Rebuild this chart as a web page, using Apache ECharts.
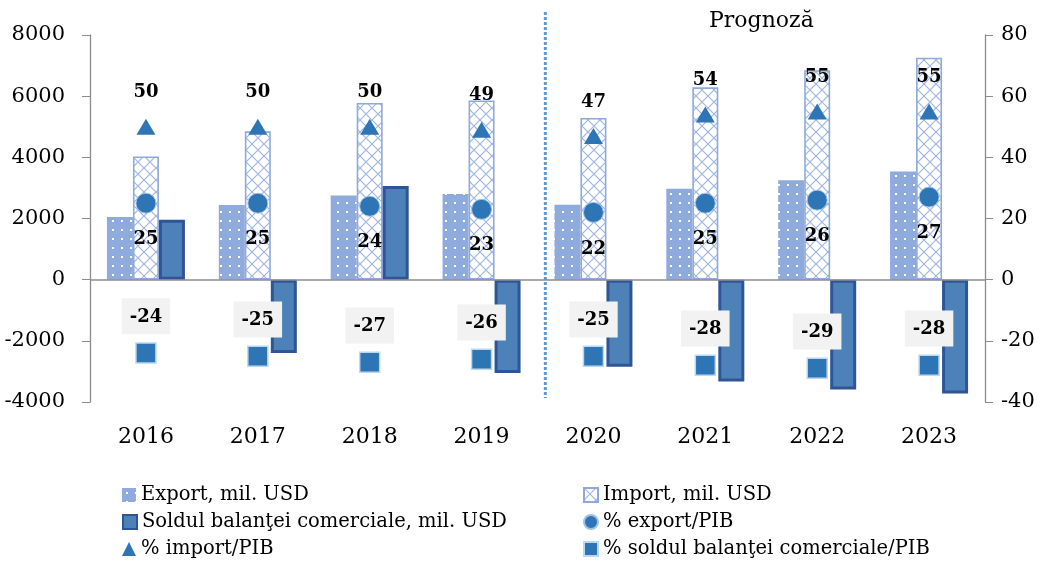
<!DOCTYPE html>
<html>
<head>
<meta charset="utf-8">
<script src="https://cdn.jsdelivr.net/npm/echarts@6/dist/echarts.min.js"></script>
<style>
html,body{margin:0;padding:0;background:#fff;}
#chart{width:1051px;height:562px;}
</style>
</head>
<body>
<div id="chart"></div>
<script>
const categories = ['2016','2017','2018','2019','2020','2021','2022','2023'];
const exportVals = [2050, 2440, 2750, 2800, 2450, 2970, 3250, 3540];
const importVals = [4030, 4850, 5780, 5860, 5290, 6290, 6850, 7260];
const soldVals = [1960, -2400, 3060, -3050, -2850, -3330, -3590, -3720];
const pctExport = [25, 25, 24, 23, 22, 25, 26, 27];
const pctImport = [50, 50, 50, 49, 47, 54, 55, 55];
const pctSold = [-24, -25, -27, -26, -25, -28, -29, -28];
const leftTicks = [-4000, -2000, 0, 2000, 4000, 6000, 8000];
const rightTicks = [-40, -20, 0, 20, 40, 60, 80];
const seriesNames = ['Export, mil. USD', 'Import, mil. USD', 'Soldul balanţei comerciale, mil. USD',
  '% export/PIB', '% import/PIB', '% soldul balanţei comerciale/PIB'];
const forecastLabel = 'Prognoză';
const forecastStart = 3.57; // position on hidden index axis for divider

const FONT = 'DejaVu Serif';

function dotPattern() {
  const c = document.createElement('canvas');
  c.width = 9; c.height = 9;
  const g = c.getContext('2d');
  g.fillStyle = '#8faadc';
  g.fillRect(0, 0, 9, 9);
  g.fillStyle = '#ffffff';
  g.fillRect(4, 4, 2, 2);
  return c;
}
function hatchPattern() {
  const c = document.createElement('canvas');
  c.width = 12; c.height = 12;
  const g = c.getContext('2d');
  g.fillStyle = '#ffffff';
  g.fillRect(0, 0, 12, 12);
  g.strokeStyle = '#9fb6e2';
  g.lineWidth = 1.2;
  g.beginPath();
  g.moveTo(0, 0); g.lineTo(12, 12);
  g.moveTo(12, 0); g.lineTo(0, 12);
  g.stroke();
  return c;
}

const chart = echarts.init(document.getElementById('chart'), null, {renderer: 'canvas'});
const labelStyle = {fontFamily: FONT, fontSize: 18, fontWeight: 'bold', color: '#000'};

// legend layout: [seriesIndex, icon, column, row]
const legendCells = [[0, 'rect', 0, 0], [1, 'rect', 1, 0], [2, 'rect', 0, 1],
  [3, 'circle', 1, 1], [4, 'triangle', 0, 2], [5, 'rect', 1, 2]];
const legendCols = [122, 583];
const legendRowTop = 485, legendRowStep = 27;

const legends = legendCells.map(([si, icon, col, row]) => ({
  left: legendCols[col], top: legendRowTop + row * legendRowStep, padding: 0,
  itemWidth: 14, itemHeight: 14,
  textStyle: {fontFamily: FONT, fontSize: 19.5, color: '#000', padding: [0, 0, 0, 0]},
  data: [{name: seriesNames[si], icon: icon}]
}));

const option = {
  animation: false,
  backgroundColor: '#fff',
  title: {
    text: forecastLabel, left: 709, top: 10, padding: 0,
    textStyle: {fontFamily: FONT, fontSize: 22, fontWeight: 'normal', color: '#000'}
  },
  grid: {left: 90, right: 66, top: 35, bottom: 160, containLabel: false},
  legend: legends,
  xAxis: [
    {
      type: 'category', data: categories,
      axisLine: {show: false}, axisTick: {show: false},
      axisLabel: {fontFamily: FONT, fontSize: 22, color: '#000', margin: 24}
    },
    {
      type: 'value', min: -0.5, max: categories.length - 0.5, show: false
    }
  ],
  yAxis: [
    {
      type: 'value', min: leftTicks[0], max: leftTicks[leftTicks.length - 1],
      interval: leftTicks[1] - leftTicks[0], position: 'left',
      axisLine: {show: true, onZero: false, lineStyle: {color: '#8c8c8c', width: 1.3}},
      axisTick: {show: true, length: 8, lineStyle: {color: '#8c8c8c'}},
      splitLine: {show: false},
      axisLabel: {fontFamily: FONT, fontSize: 21, color: '#000', margin: 25, formatter: v => String(v)}
    },
    {
      type: 'value', min: rightTicks[0], max: rightTicks[rightTicks.length - 1],
      interval: rightTicks[1] - rightTicks[0], position: 'right',
      axisLine: {show: true, onZero: false, lineStyle: {color: '#8c8c8c', width: 1.3}},
      axisTick: {show: true, length: 8, lineStyle: {color: '#8c8c8c'}},
      splitLine: {show: false},
      axisLabel: {fontFamily: FONT, fontSize: 21, color: '#000', margin: 16, formatter: v => String(v)}
    }
  ],
  series: [
    {
      name: seriesNames[0], type: 'bar', data: exportVals, barWidth: 26, barGap: '0%',
      itemStyle: {color: {image: dotPattern(), repeat: 'repeat'}},
      markLine: {
        silent: true, symbol: 'none', label: {show: false},
        lineStyle: {color: '#8c8c8c', width: 1.5, type: 'solid'},
        data: [{yAxis: 0}]
      }
    },
    {
      name: seriesNames[1], type: 'bar', data: importVals, barWidth: 26, barGap: '0%',
      itemStyle: {color: {image: hatchPattern(), repeat: 'repeat'}, borderColor: '#8eaadb', borderWidth: 1.6}
    },
    {
      name: seriesNames[2], type: 'bar', data: soldVals, barWidth: 26, barGap: '0%',
      itemStyle: {color: '#4d82b8', borderColor: '#2f5597', borderWidth: 3}
    },
    {
      name: seriesNames[3], type: 'line', yAxisIndex: 1, data: pctExport,
      symbol: 'circle', symbolSize: 20, lineStyle: {opacity: 0},
      itemStyle: {color: '#2e75b6', borderColor: '#9dc3e6', borderWidth: 1},
      label: {show: true, position: 'bottom', distance: 17, ...labelStyle},
      z: 5
    },
    {
      name: seriesNames[4], type: 'line', yAxisIndex: 1, data: pctImport,
      symbol: 'triangle', symbolSize: [19, 16], lineStyle: {opacity: 0},
      itemStyle: {color: '#2e75b6'},
      label: {show: true, position: 'top', distance: 17, ...labelStyle},
      z: 5
    },
    {
      name: seriesNames[5], type: 'line', yAxisIndex: 1, data: pctSold,
      symbol: 'rect', symbolSize: 20, lineStyle: {opacity: 0},
      itemStyle: {color: '#2e75b6', borderColor: '#bdd7ee', borderWidth: 1.5},
      label: {show: true, position: 'top', distance: 8, backgroundColor: '#f2f2f2',
        padding: [10, 8, 8, 8], ...labelStyle},
      z: 5
    }
  ]
};
chart.setOption(option);

const xDiv = chart.convertToPixel({xAxisIndex: 1}, forecastStart);
chart.setOption({
  graphic: [{
    type: 'line', silent: true, z: 1,
    shape: {x1: xDiv, y1: 12, x2: xDiv, y2: 398},
    style: {stroke: '#5b9bd5', lineWidth: 3, lineDash: [3, 2]}
  }]
});
</script>
</body>
</html>
